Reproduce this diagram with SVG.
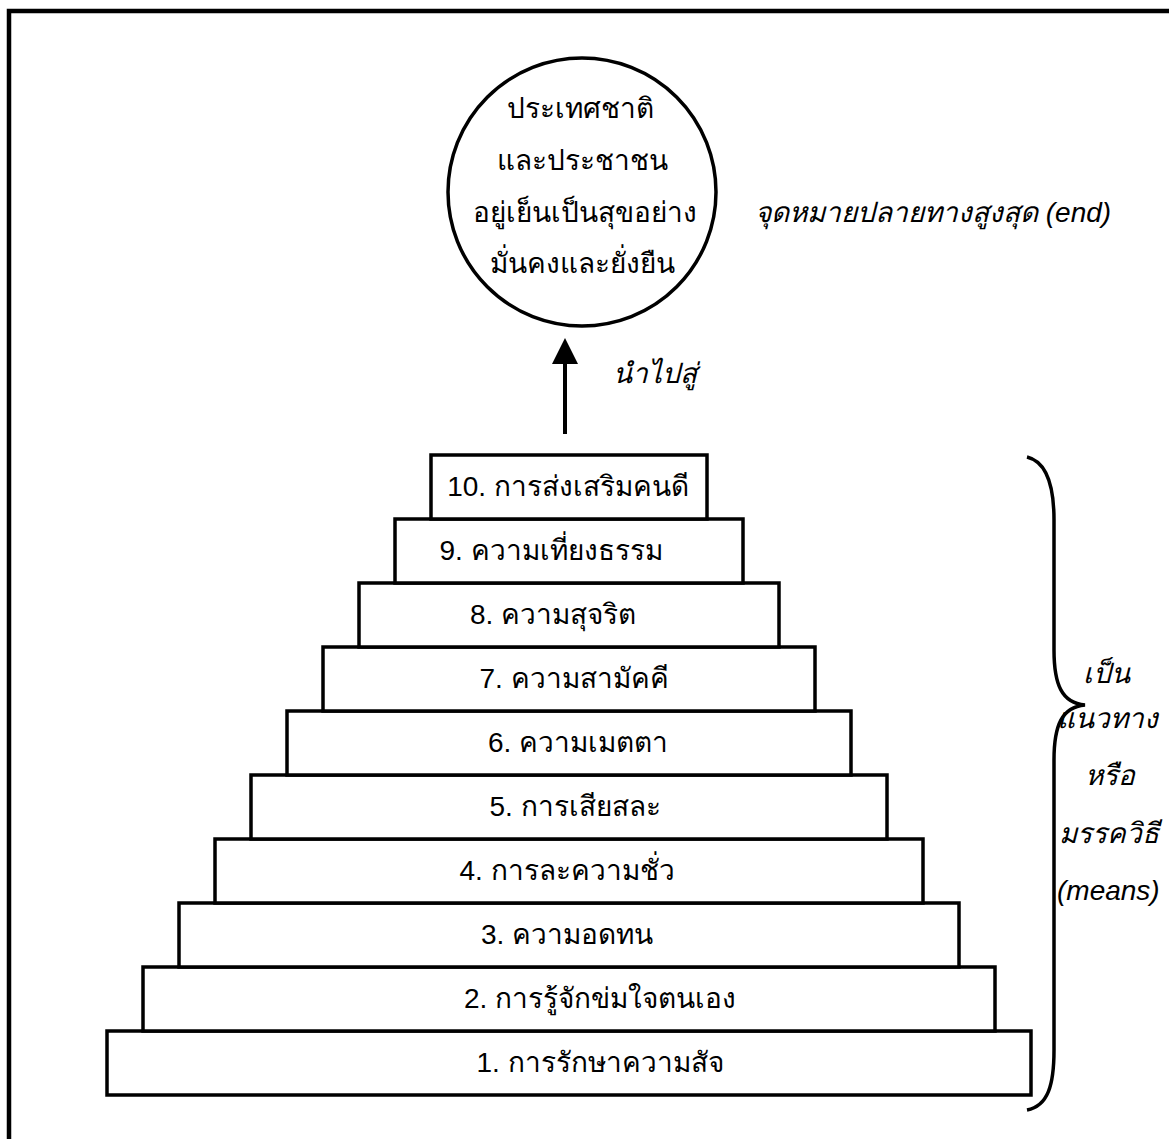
<svg xmlns="http://www.w3.org/2000/svg" width="1169" height="1139" viewBox="0 0 1169 1139">
<style>
.box{fill:#fff;stroke:#000;stroke-width:3.5}
.lbl{font-family:"Liberation Sans","Noto Sans",sans-serif;font-size:28px;fill:#000;text-anchor:middle}
.ctxt{font-family:"Liberation Sans","Noto Sans",sans-serif;font-size:28px;fill:#000;text-anchor:middle}
.it{font-family:"Liberation Sans","Noto Sans",sans-serif;font-size:28px;font-style:italic;fill:#000}
</style>
<rect width="1169" height="1139" fill="#fff"/>
<rect x="9" y="11" width="1200" height="1200" fill="none" stroke="#000" stroke-width="4.5"/>
<g id="goal">
<circle cx="582" cy="192" r="134" fill="#fff" stroke="#000" stroke-width="3.5"/>
<text class="ctxt" x="580" y="118">ประเทศชาติ</text>
<text class="ctxt" x="582" y="170">และประชาชน</text>
<text class="ctxt" x="585" y="222">อยู่เย็นเป็นสุขอย่าง</text>
<text class="ctxt" x="582" y="273">มั่นคงและยั่งยืน</text>
</g>
<g id="end-label"><text class="it" x="755" y="222">จุดหมายปลายทางสูงสุด (end)</text></g>
<g id="connectors">
<line x1="565" y1="434" x2="565" y2="363" stroke="#000" stroke-width="4"/>
<path d="M552,364 L565,338 L578,364 Z" fill="#000"/>
<text class="it" x="613" y="383">นำไปสู่</text>
</g>
<g id="pyramid">
<g id="s1"><rect class="box" x="107" y="1031" width="924" height="64"/><text class="lbl" x="600" y="1072">1. การรักษาความสัจ</text></g>
<g id="s2"><rect class="box" x="143" y="967" width="852" height="64"/><text class="lbl" x="600" y="1008">2. การรู้จักข่มใจตนเอง</text></g>
<g id="s3"><rect class="box" x="179" y="903" width="780" height="64"/><text class="lbl" x="567" y="944">3. ความอดทน</text></g>
<g id="s4"><rect class="box" x="215" y="839" width="708" height="64"/><text class="lbl" x="567" y="880">4. การละความชั่ว</text></g>
<g id="s5"><rect class="box" x="251" y="775" width="636" height="64"/><text class="lbl" x="575" y="816">5. การเสียสละ</text></g>
<g id="s6"><rect class="box" x="287" y="711" width="564" height="64"/><text class="lbl" x="578" y="752">6. ความเมตตา</text></g>
<g id="s7"><rect class="box" x="323" y="647" width="492" height="64"/><text class="lbl" x="574" y="688">7. ความสามัคคี</text></g>
<g id="s8"><rect class="box" x="359" y="583" width="420" height="64"/><text class="lbl" x="553" y="624">8. ความสุจริต</text></g>
<g id="s9"><rect class="box" x="395" y="519" width="348" height="64"/><text class="lbl" x="551" y="560">9. ความเที่ยงธรรม</text></g>
<g id="s10"><rect class="box" x="431" y="455" width="276" height="64"/><text class="lbl" x="568" y="496">10. การส่งเสริมคนดี</text></g>
</g>
<g id="brace">
<path d="M1027,457 C1048,462 1054,490 1054,520 L1054,650 C1054,685 1062,703 1085,705 C1062,707 1054,725 1054,760 L1054,1050 C1054,1085 1048,1106 1027,1110" fill="none" stroke="#000" stroke-width="3.5"/>
<text class="it" x="1083" y="683">เป็น</text>
<text class="it" x="1057" y="728">แนวทาง</text>
<text class="it" x="1085" y="785">หรือ</text>
<text class="it" x="1059" y="843">มรรควิธี</text>
<text class="it" x="1057" y="900">(means)</text>
</g>
</svg>
